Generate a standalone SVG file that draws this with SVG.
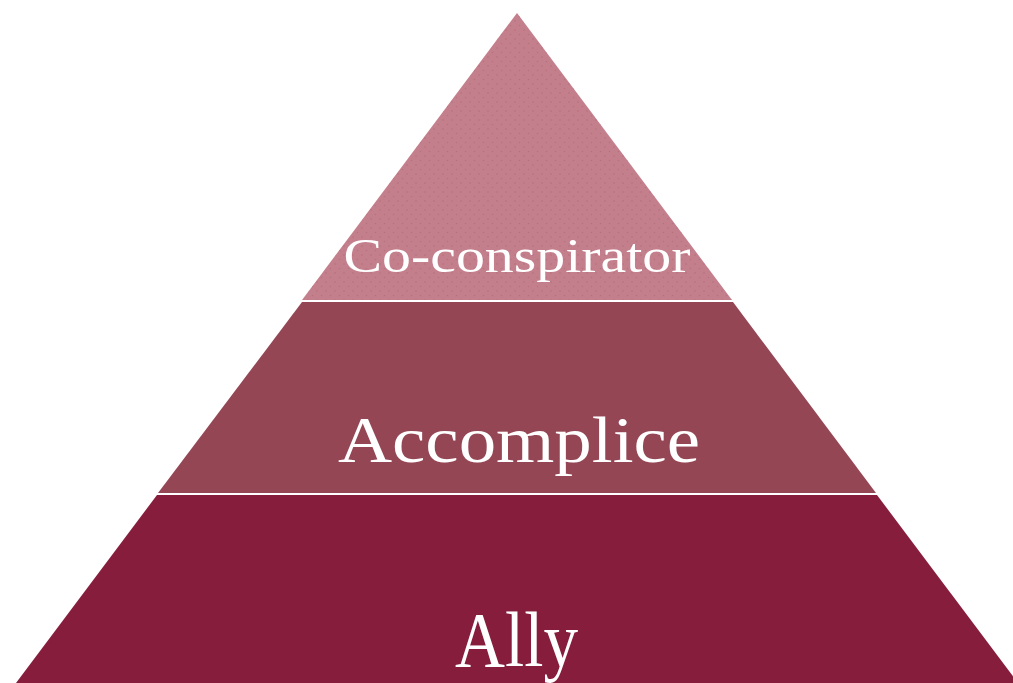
<svg xmlns="http://www.w3.org/2000/svg" width="1013" height="683" viewBox="0 0 1013 683">
  <style>
    .label { font-family: "Liberation Serif", "Times New Roman", serif; fill: #ffffff; text-anchor: middle; }
    .divider { stroke: #ffffff; stroke-width: 2; }
  </style>
  <defs>
    <pattern id="speckle" width="9" height="9" patternUnits="userSpaceOnUse">
      <circle cx="2" cy="3" r="0.8" fill="#a9616f" opacity="0.6"/>
      <circle cx="6.5" cy="7.5" r="0.8" fill="#a9616f" opacity="0.45"/>
    </pattern>
  </defs>
  <rect width="1013" height="683" fill="#ffffff"/>

  <!-- top tier -->
  <g id="tier-co-conspirator">
    <polygon points="517,13 732,300 302,300" fill="#c47f8c"/>
    <polygon points="517,13 732,300 302,300" fill="url(#speckle)"/>
    <text class="label" x="517" y="272" font-size="49" textLength="347" lengthAdjust="spacingAndGlyphs">Co-conspirator</text>
  </g>

  <!-- middle tier -->
  <g id="tier-accomplice">
    <polygon points="302,302 733,302 876,493 158,493" fill="#944654"/>
    <text class="label" x="519" y="462" font-size="66" textLength="362" lengthAdjust="spacingAndGlyphs">Accomplice</text>
  </g>

  <!-- bottom tier -->
  <g id="tier-ally">
    <polygon points="157,495 877,495 1018,683 16,683" fill="#861d3d"/>
    <text class="label" x="516.5" y="666" font-size="78" textLength="123" lengthAdjust="spacingAndGlyphs">Ally</text>
  </g>

  <!-- tier separators -->
  <g id="connectors">
    <line class="divider" x1="300" y1="301" x2="735" y2="301"/>
    <line class="divider" x1="155" y1="494" x2="879" y2="494"/>
  </g>
</svg>
